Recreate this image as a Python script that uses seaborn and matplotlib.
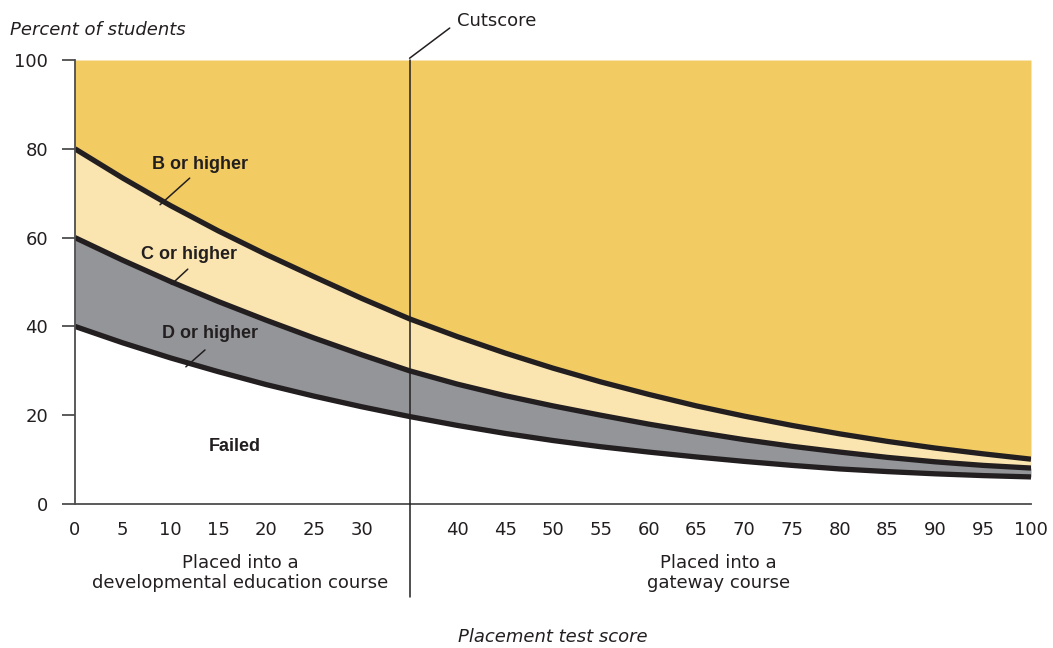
import numpy as np
import pandas as pd
import matplotlib
matplotlib.use('Agg')
import matplotlib.pyplot as plt
import seaborn as sns

# Values
scores = [0, 5, 10, 15, 20, 25, 30, 35, 40, 45, 50, 55, 60, 65, 70, 75, 80, 85, 90, 95, 100]
b_or_higher = [80, 73.4, 67.2, 61.5, 56.2, 51.2, 46.3, 41.7, 37.7, 34, 30.6, 27.5, 24.7, 22.1, 19.8, 17.7, 15.8, 14.1, 12.6, 11.3, 10.1]
c_or_higher = [60, 54.9, 50.1, 45.6, 41.4, 37.4, 33.6, 30.0, 27.0, 24.4, 22.1, 20, 18, 16.2, 14.5, 13.0, 11.7, 10.5, 9.5, 8.7, 8.1]
d_or_higher = [40, 36.3, 32.9, 29.8, 26.9, 24.3, 21.9, 19.7, 17.7, 15.9, 14.3, 12.9, 11.7, 10.6, 9.6, 8.7, 7.9, 7.3, 6.8, 6.4, 6.1]
cutscore = 35
xtick_vals = [0, 5, 10, 15, 20, 25, 30, 40, 45, 50, 55, 60, 65, 70, 75, 80, 85, 90, 95, 100]
ytick_vals = [0, 20, 40, 60, 80, 100]

df = pd.DataFrame({'score': scores, 'B': b_or_higher, 'C': c_or_higher, 'D': d_or_higher})

sns.set_style('white')
plt.rcParams['font.family'] = ['DejaVu Sans']

GOLD = '#F2CB63'
LIGHT = '#FAE4B0'
GRAY = '#939598'
INK = '#231F20'
AXIS = '#4D4D4D'

fig = plt.figure(figsize=(10.53, 6.48), dpi=100)
ax = fig.add_axes([0.0712, 0.2222, 0.9079, 0.6852])

# filled bands
ax.fill_between(df['score'], df['B'], 100, color=GOLD, lw=0)
ax.fill_between(df['score'], df['C'], df['B'], color=LIGHT, lw=0)
ax.fill_between(df['score'], df['D'], df['C'], color=GRAY, lw=0)

for col in ['B', 'C', 'D']:
    sns.lineplot(data=df, x='score', y=col, ax=ax, color=INK, linewidth=3.8,
                 solid_capstyle='butt', solid_joinstyle='round', legend=False)

ax.set_xlim(0, 100)
ax.set_ylim(0, 100)
ax.set_xlabel('')
ax.set_ylabel('')

ax.set_xticks(xtick_vals)
ax.set_xticklabels([str(v) for v in xtick_vals])
ax.set_yticks(ytick_vals)
ax.tick_params(axis='x', length=0, pad=12, labelsize=13, labelcolor=INK)
ax.tick_params(axis='y', length=9.5, width=1.3, color=AXIS, pad=10,
               labelsize=13, labelcolor=INK, left=True)

for s in ['top', 'right']:
    ax.spines[s].set_visible(False)
for s in ['left', 'bottom']:
    ax.spines[s].set_color(AXIS)
    ax.spines[s].set_linewidth(1.3)
    ax.spines[s].set_zorder(5)

# cutscore line
ax.plot([cutscore, cutscore], [-21, 100], color=INK, lw=1.1, clip_on=False, zorder=6)
ax.plot([cutscore, cutscore + 4.2], [100.4, 107.2], color=INK, lw=1.1, clip_on=False)
ax.text(cutscore + 5, 108.7, 'Cutscore', fontsize=13, color=INK, va='center', ha='left')

# band labels
lab = dict(fontsize=13, fontweight='bold', color=INK, ha='center', va='center',
           family=['Liberation Sans Narrow', 'Liberation Sans', 'DejaVu Sans'])
ax.text(13.1, 76.4, 'B or higher', **lab)
ax.plot([8.9, 12.0], [67.4, 73.4], color=INK, lw=1.1)
ax.text(11.9, 56.3, 'C or higher', **lab)
ax.plot([10.1, 11.8], [49.5, 52.9], color=INK, lw=1.1)
ax.text(14.1, 38.3, 'D or higher', **lab)
ax.plot([11.6, 13.6], [30.9, 34.7], color=INK, lw=1.1)
ax.text(16.7, 13.0, 'Failed', **lab)

# placement notes under the axis
ax.text(17.3, -15.5, 'Placed into a\ndevelopmental education course', fontsize=13,
        color=INK, ha='center', va='center', linespacing=1.1, clip_on=False)
ax.text(67.3, -15.5, 'Placed into a\ngateway course', fontsize=13,
        color=INK, ha='center', va='center', linespacing=1.1, clip_on=False)

fig.text(0.0095, 0.954, 'Percent of students', fontsize=13, style='italic',
         color=INK, ha='left', va='center')
fig.text(0.525, 0.017, 'Placement test score', fontsize=13, style='italic',
         color=INK, ha='center', va='center')

fig.savefig('out.png', dpi=100)
